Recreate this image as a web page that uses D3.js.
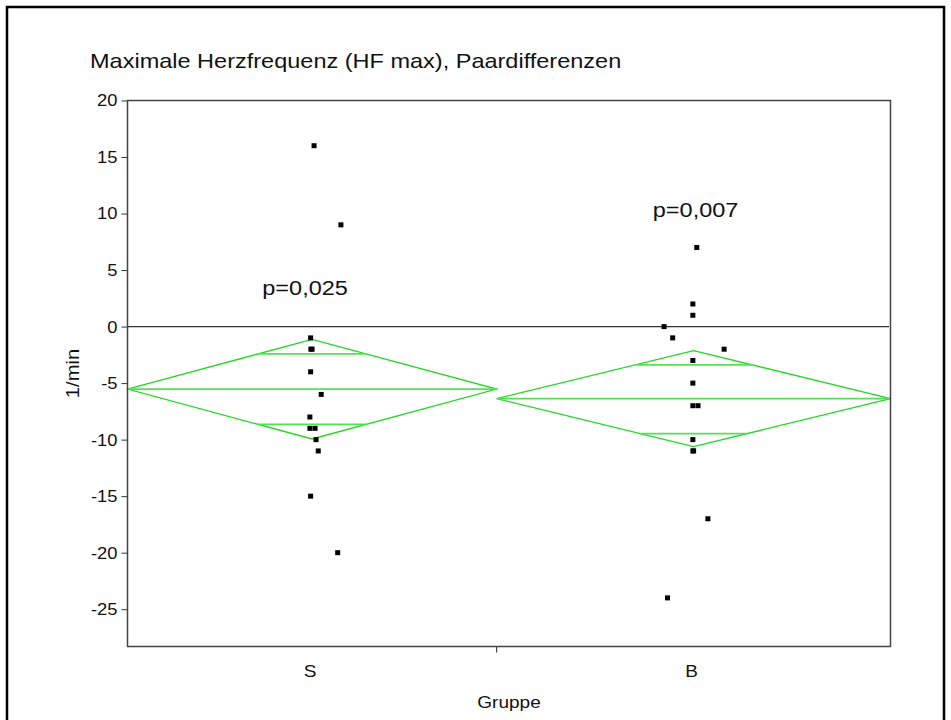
<!DOCTYPE html>
<html>
<head>
<meta charset="utf-8">
<script src="https://cdnjs.cloudflare.com/ajax/libs/d3/7.8.5/d3.min.js"></script>
<style>
  body { margin: 0; background: #fff; }
  svg text { font-family: "Liberation Sans", Arial, sans-serif; fill: #111; }
</style>
</head>
<body>
<div id="chart"></div>
<script>
// groups and sample sizes (the x axis width of each group follows n)
var groups = ["S", "B"];
var groupN = [15, 16];

// paired differences; jitter is in x-axis units
var sValues = [16, 9, -1, -2, -2, -4, -6, -8, -9, -9, -10, -11, -15, -20];
var sJitter = [0.08, 1.17, -0.06, -0.05, 0.0, -0.06, 0.37, -0.09, -0.09, 0.12, 0.16, 0.25, -0.06, 1.04];
var bValues = [7, 2, 1, 0, -1, -2, -3, -5, -7, -7, -10, -11, -11, -17, -24];
var bJitter = [0.13, -0.03, -0.03, -1.2, -0.85, 1.24, -0.03, -0.03, -0.03, 0.18, -0.03, -0.03, 0.0, 0.58, -1.06];

// means diamonds: mean, 95% CI and overlap marks
var diamondMean = [-5.53, -6.37];
var diamondLower = [-9.94, -10.62];
var diamondUpper = [-1.13, -2.12];
var overlapLower = [-8.65, -9.46];
var overlapUpper = [-2.41, -3.38];

var pLabels = ["p=0,025", "p=0,007"];
var pLabelY = [3.5, 10.4];

var yTicks = [20, 15, 10, 5, 0, -5, -10, -15, -20, -25];

var width = 951, height = 720;
var margin = {left: 127.5, top: 100.5, right: 60.5, bottom: 73.5};
var stretch = 1.12;   // text in the original is a bit wider than Arial

var svg = d3.select("#chart").append("svg")
  .attr("width", width)
  .attr("height", height);

function label(parent, px, py, txt, size, anchor, rot) {
  return parent.append("text")
    .attr("transform", "translate(" + px + "," + py + ")" + (rot ? " rotate(" + rot + ")" : "") + " scale(" + stretch + ",1)")
    .attr("text-anchor", anchor || "start")
    .attr("font-size", size)
    .text(txt);
}

// outer frame
svg.append("rect")
  .attr("x", 7).attr("y", 7)
  .attr("width", 937).attr("height", 730)
  .attr("fill", "none")
  .attr("stroke", "#000")
  .attr("stroke-width", 2.5);

var totalN = d3.sum(groupN);
var x = d3.scaleLinear()
  .domain([0, totalN])
  .range([margin.left, width - margin.right]);

var y = d3.scaleLinear()
  .domain([-28.3, 20])
  .range([height - margin.bottom, margin.top]);

var starts = [0, groupN[0]];
var ends = [groupN[0], totalN];
var centers = [groupN[0] / 2, groupN[0] + groupN[1] / 2];

// title
label(svg, 90, 68, "Maximale Herzfrequenz (HF max), Paardifferenzen", 21);

// y axis
var yAxis = d3.axisLeft(y)
  .tickValues(yTicks)
  .tickSize(6)
  .tickPadding(3)
  .tickFormat(function(d) { return String(d); });
var gy = svg.append("g")
  .attr("transform", "translate(" + margin.left + ",0)")
  .call(yAxis);
gy.select(".domain").remove();
gy.selectAll(".tick line").attr("stroke", "#333");
gy.selectAll(".tick text")
  .attr("font-size", 17)
  .attr("font-family", "Liberation Sans, Arial, sans-serif")
  .attr("fill", "#111")
  .attr("x", -10 / 1.08)
  .attr("transform", "scale(1.08,1)");

label(svg, 79, (margin.top + height - margin.bottom) / 2, "1/min", 18, "middle", -90);

// x axis: a tick at the group border, labels at group centres
var ax = svg.append("g");
ax.selectAll(".border-tick")
  .data([groupN[0]])
  .enter().append("line")
  .attr("x1", function(d) { return x(d); })
  .attr("x2", function(d) { return x(d); })
  .attr("y1", y.range()[0])
  .attr("y2", y.range()[0] + 6)
  .attr("stroke", "#222");

groups.forEach(function(g, i) {
  label(ax, x(centers[i]) - 2, y.range()[0] + 30, g, 17, "middle");
});

label(svg, (x.range()[0] + x.range()[1]) / 2, 708, "Gruppe", 17, "middle");

// zero reference line
svg.append("line")
  .attr("x1", x(0)).attr("x2", x(totalN) - 1.5)
  .attr("y1", y(0)).attr("y2", y(0))
  .attr("stroke", "#333")
  .attr("stroke-width", 1.4);

// means diamonds
var dg = svg.append("g");
groups.forEach(function(g, i) {
  var x0 = x(starts[i]), x1 = x(ends[i]), xc = x(centers[i]);
  var half = (x1 - x0) / 2;
  var ci = diamondMean[i] - diamondLower[i];

  dg.append("path")
    .attr("d", d3.line()([
      [x0, y(diamondMean[i])],
      [xc, y(diamondUpper[i])],
      [x1, y(diamondMean[i])],
      [xc, y(diamondLower[i])]
    ]) + "Z")
    .attr("fill", "none")
    .attr("stroke", "#22d822")
    .attr("stroke-width", 1.3);

  dg.append("line")
    .attr("x1", x0).attr("x2", x1)
    .attr("y1", y(diamondMean[i])).attr("y2", y(diamondMean[i]))
    .attr("stroke", "#55e055")
    .attr("stroke-width", 1.8);

  [overlapLower[i], overlapUpper[i]].forEach(function(v) {
    var w = half * (1 - Math.abs(v - diamondMean[i]) / ci);
    dg.append("line")
      .attr("x1", xc - w).attr("x2", xc + w)
      .attr("y1", y(v)).attr("y2", y(v))
      .attr("stroke", "#55e055")
      .attr("stroke-width", 1.8);
  });
});

// points
var pts = [];
sValues.forEach(function(v, i) { pts.push({g: 0, v: v, j: sJitter[i]}); });
bValues.forEach(function(v, i) { pts.push({g: 1, v: v, j: bJitter[i]}); });

svg.append("g").selectAll("rect")
  .data(pts)
  .enter().append("rect")
  .attr("x", function(d) { return x(centers[d.g] + d.j) - 2.5; })
  .attr("y", function(d) { return y(d.v) - 2.5; })
  .attr("width", 5)
  .attr("height", 5)
  .attr("fill", "#000");

// p-values
var pg = svg.append("g");
pLabels.forEach(function(p, i) {
  label(pg, x(centers[i]) + (i == 0 ? -7 : 2), y(pLabelY[i]) + 8, p, 21, "middle");
});

// plot frame
svg.append("rect")
  .attr("x", x.range()[0]).attr("y", y.range()[1])
  .attr("width", x.range()[1] - x.range()[0])
  .attr("height", y.range()[0] - y.range()[1])
  .attr("fill", "none")
  .attr("stroke", "#444")
  .attr("stroke-width", 1.5);
</script>
</body>
</html>
